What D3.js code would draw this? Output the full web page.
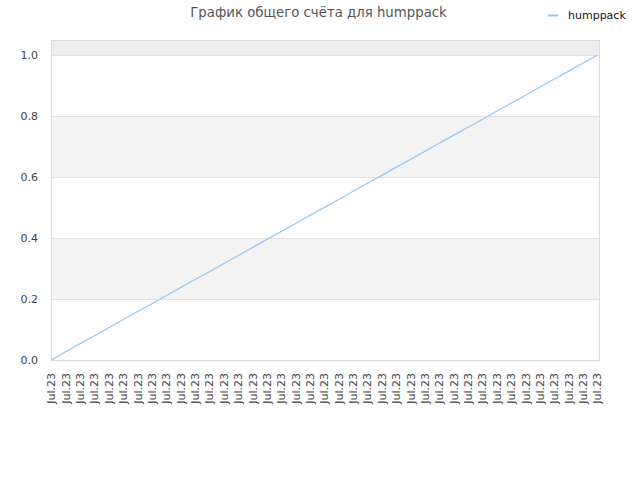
<!DOCTYPE html>
<html>
<head>
<meta charset="utf-8">
<script src="https://cdn.jsdelivr.net/npm/d3@7/dist/d3.min.js"></script>
<style>
  html, body { margin: 0; padding: 0; background: #fff; }
  svg { display: block; font-family: "DejaVu Sans", sans-serif; }
</style>
</head>
<body>
<svg id="chart" width="640" height="480"></svg>
<script>
const title = "График общего счёта для humppack";
const seriesName = "humppack";
const categories = ["Jul.23","Jul.23","Jul.23","Jul.23","Jul.23","Jul.23","Jul.23","Jul.23","Jul.23","Jul.23",
  "Jul.23","Jul.23","Jul.23","Jul.23","Jul.23","Jul.23","Jul.23","Jul.23","Jul.23","Jul.23",
  "Jul.23","Jul.23","Jul.23","Jul.23","Jul.23","Jul.23","Jul.23","Jul.23","Jul.23","Jul.23",
  "Jul.23","Jul.23","Jul.23","Jul.23","Jul.23","Jul.23","Jul.23","Jul.23","Jul.23"];
const values = [0.000,0.026,0.053,0.079,0.105,0.132,0.158,0.184,0.211,0.237,
  0.263,0.289,0.316,0.342,0.368,0.395,0.421,0.447,0.474,0.500,
  0.526,0.553,0.579,0.605,0.632,0.658,0.684,0.711,0.737,0.763,
  0.789,0.816,0.842,0.868,0.895,0.921,0.947,0.974,1.000];
const yTicks = [0.0, 0.2, 0.4, 0.6, 0.8, 1.0];

(function () {
const svg = d3.select("#chart");
const pL = 51, pR = 600, pT = 40, pB = 360;
const x = d3.scalePoint().domain(d3.range(categories.length)).range([pL, 597]);
const y = d3.scaleLinear().domain([0, 1.05]).range([pB, pT]);

// bands
const bandEdges = [0, 0.2, 0.4, 0.6, 0.8, 1.0, 1.05];
for (let i = 0; i < bandEdges.length - 1; i++) {
  let fill = null;
  if (i === 1 || i === 3) fill = "#f3f3f3";
  if (i === 5) fill = "#eeeeee";
  if (fill) {
    svg.append("rect")
      .attr("x", pL).attr("width", pR - pL)
      .attr("y", y(bandEdges[i + 1])).attr("height", y(bandEdges[i]) - y(bandEdges[i + 1]))
      .attr("fill", fill);
  }
}
// gridlines
svg.append("g").selectAll("line").data(yTicks.slice(1)).join("line")
  .attr("x1", pL).attr("x2", pR)
  .attr("y1", d => Math.round(y(d)) + 0.5).attr("y2", d => Math.round(y(d)) + 0.5)
  .attr("stroke", "#e2e2e2");

// frame
svg.append("rect").attr("x", pL + 0.5).attr("y", pT + 0.5)
  .attr("width", pR - pL - 1).attr("height", pB - pT)
  .attr("fill", "none").attr("stroke", "#dadada");

// y axis
const yAxis = d3.axisLeft(y).tickValues(yTicks).tickFormat(d3.format(".1f")).tickSize(0).tickPadding(13);
const gy = svg.append("g").attr("transform", `translate(${pL},0)`).call(yAxis);
gy.select(".domain").remove();
gy.selectAll("text").attr("font-size", 11).attr("fill", "#444").attr("font-family", "DejaVu Sans, sans-serif");

// x axis
const xAxis = d3.axisBottom(x).tickFormat(i => categories[i]).tickSize(0).tickPadding(0);
const gx = svg.append("g").attr("transform", `translate(0,${pB})`).call(xAxis);
gx.select(".domain").remove();
gx.selectAll("text")
  .attr("font-size", 11).attr("fill", "#444").attr("font-family", "DejaVu Sans, sans-serif")
  .attr("text-anchor", "end")
  .attr("transform", "rotate(-90)")
  .attr("x", -13).attr("y", 0).attr("dy", "0.35em");

// line
const line = d3.line().x((d, i) => x(i)).y(d => y(d));
svg.append("path").datum(values).attr("d", line)
  .attr("fill", "none").attr("stroke", "#93c6f6").attr("stroke-width", 1.2);

// title
svg.append("text").attr("x", 318.5).attr("y", 17).attr("text-anchor", "middle")
  .attr("font-size", 13.3).attr("fill", "#555").text(title);

// legend
svg.append("line").attr("x1", 548).attr("x2", 558).attr("y1", 15.5).attr("y2", 15.5)
  .attr("stroke", "#93c6f6").attr("stroke-width", 2);
svg.append("text").attr("x", 568).attr("y", 19).attr("font-size", 11).attr("fill", "#111").text(seriesName);
})();
</script>
</body>
</html>
